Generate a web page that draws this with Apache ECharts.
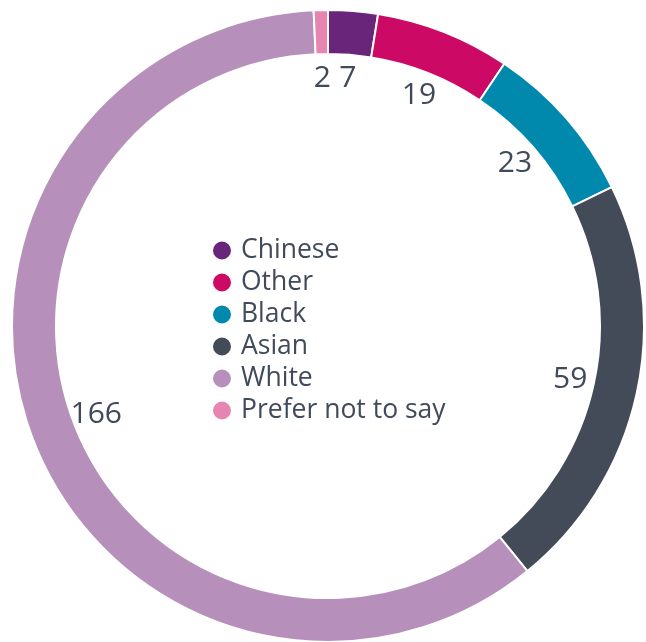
<!DOCTYPE html>
<html><head><meta charset="utf-8">
<script src="https://cdn.jsdelivr.net/npm/echarts@6/dist/echarts.min.js"></script>
<style>html,body{margin:0;padding:0;background:#fff}#c{width:646px;height:642px}</style>
</head><body><div id="c"></div>
<script>
const categories = ["Chinese", "Other", "Black", "Asian", "White", "Prefer not to say"];
const values = [7, 19, 23, 59, 166, 2];
const colors = ["#68257a", "#cc0a66", "#0089ad", "#434a58", "#b690bb", "#e585b0"];

const data = categories.map((n, i) => ({ name: n, value: values[i], itemStyle: { color: colors[i] } }));
const chart = echarts.init(document.getElementById('c'));
chart.setOption({
  animation: false,
  textStyle: { fontFamily: 'Open Sans' },
  legend: {
    orient: 'vertical', left: 206, top: 232,
    icon: 'circle', itemWidth: 20, itemHeight: 20, itemGap: 5,
    textStyle: { fontSize: 26.5, lineHeight: 27, color: '#414a5a', fontFamily: 'Open Sans', padding: [0, 0, 0, 4] },
    data: categories
  },
  series: [{
    type: 'pie', center: [328, 326], radius: [272, 316], startAngle: 90, clockwise: true,
    avoidLabelOverlap: false, silent: true,
    itemStyle: { borderColor: '#fff', borderWidth: 2 },
    label: { show: false }, labelLine: { show: false },
    data: data
  }, {
    type: 'pie', center: [328, 326], radius: [230, 260], startAngle: 90, clockwise: true,
    avoidLabelOverlap: false, silent: true, legendHoverLink: false,
    itemStyle: { color: 'rgba(0,0,0,0)' },
    label: { show: true, position: 'inside', formatter: '{c}', fontSize: 30, color: '#414a5a', fontFamily: 'Open Sans' },
    labelLine: { show: false },
    data: categories.map((n, i) => ({ name: n, value: values[i] }))
  }]
});
</script></body></html>
